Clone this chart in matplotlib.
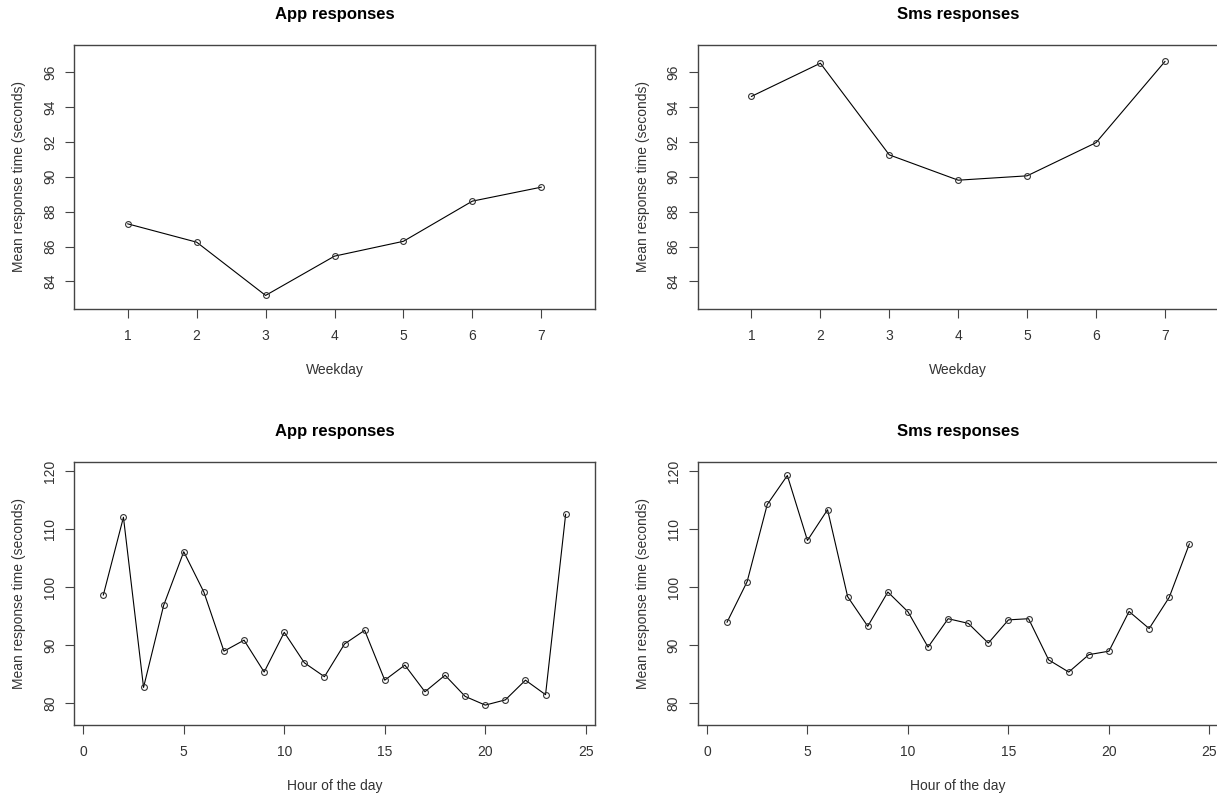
import matplotlib
matplotlib.use("Agg")
import matplotlib.pyplot as plt

plt.rcParams['font.family'] = ['Liberation Sans', 'DejaVu Sans']

weekdays = [1, 2, 3, 4, 5, 6, 7]
app_weekday = [87.3, 86.25, 83.2, 85.45, 86.3, 88.6, 89.4]
sms_weekday = [94.6, 96.5, 91.25, 89.8, 90.05, 91.95, 96.6]

hours = list(range(1, 25))
app_hourly = [98.7, 112.1, 82.75, 96.9, 106.15, 99.2, 89.0, 90.9, 85.4, 92.25,
              87.0, 84.6, 90.25, 92.6, 84.0, 86.6, 82.0, 84.85, 81.2, 79.7,
              80.6, 84.0, 81.5, 112.6]
sms_hourly = [94.0, 101.0, 114.3, 119.3, 108.1, 113.4, 98.4, 93.3, 99.2, 95.8,
              89.7, 94.6, 93.8, 90.4, 94.4, 94.6, 87.5, 85.4, 88.4, 89.0,
              95.85, 92.9, 98.3, 107.5]

weekday_ticks = [1, 2, 3, 4, 5, 6, 7]
weekday_yticks = [84, 86, 88, 90, 92, 94, 96]
hour_ticks = [0, 5, 10, 15, 20, 25]
hour_yticks = [80, 90, 100, 110, 120]

titles = ["App responses", "Sms responses"]
ylabel = "Mean response time (seconds)"

W, H = 1217, 796
fig = plt.figure(figsize=(W / 100, H / 100), dpi=100)

def px_axes(left, top, right, bottom):
    return fig.add_axes([left / W, 1 - bottom / H, (right - left) / W, (bottom - top) / H])

col_off = 623.7
panels = [
    (74, 44.7, 595, 308.7, weekdays, app_weekday, titles[0], "Weekday", weekday_ticks, weekday_yticks, (0.22, 7.78), (82.44, 97.56)),
    (74 + col_off, 44.7, 595 + col_off, 308.7, weekdays, sms_weekday, titles[1], "Weekday", weekday_ticks, weekday_yticks, (0.22, 7.78), (82.44, 97.56)),
    (74, 461.7, 595, 724.7, hours, app_hourly, titles[0], "Hour of the day", hour_ticks, hour_yticks, (-0.46, 25.46), (76.32, 121.68)),
    (74 + col_off, 461.7, 595 + col_off, 724.7, hours, sms_hourly, titles[1], "Hour of the day", hour_ticks, hour_yticks, (-0.46, 25.46), (76.32, 121.68)),
]

txt = '#333333'
for (l, t, r, b, xs, ys, title, xlab, xt, yt, xl, yl) in panels:
    ax = px_axes(l, t, r, b)
    ax.plot(xs, ys, color='black', lw=0.8, marker='o', ms=4.2, mfc='none',
            mec='#333333', mew=0.8)
    ax.set_xlim(*xl)
    ax.set_ylim(*yl)
    ax.set_xticks(xt)
    ax.set_yticks(yt)
    for s in ax.spines.values():
        s.set_color('#444444')
        s.set_linewidth(1.0)
    ax.tick_params(direction='out', length=6.3, width=0.8, color='#444444',
                   labelsize=10, labelcolor=txt, pad=6)
    ax.tick_params(axis='x', pad=8)
    plt.setp(ax.get_yticklabels(), rotation=90, va='center')
    ax.set_title(title, fontsize=12, fontweight='bold', pad=18.5, color='black')
    ax.set_xlabel(xlab, fontsize=10, color=txt, labelpad=15)
    ax.set_ylabel(ylabel, fontsize=10, color=txt, labelpad=12)

fig.savefig("out.png", dpi=100)
